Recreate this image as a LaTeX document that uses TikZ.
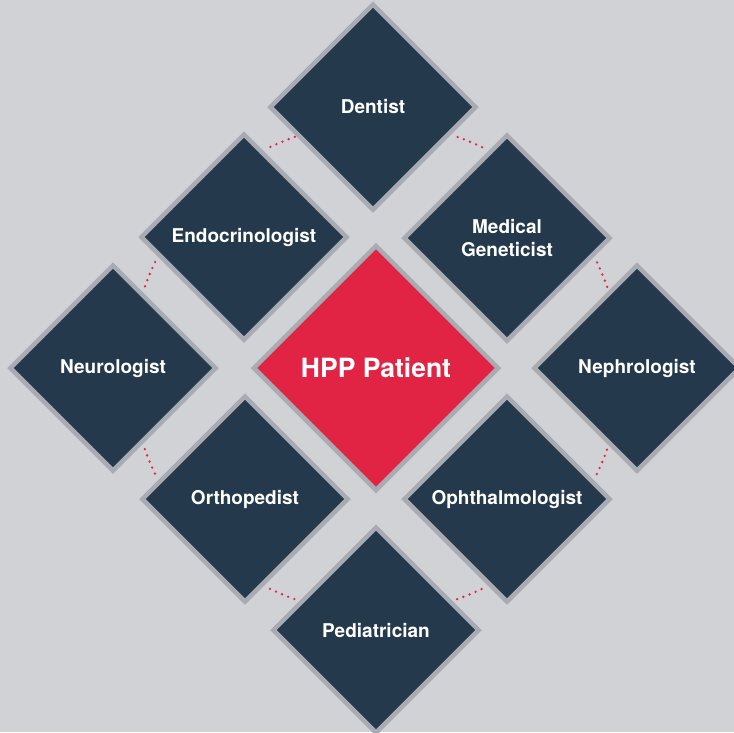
\documentclass[tikz,border=0pt]{standalone}
\usepackage{fontspec}
\setmainfont{TeX Gyre Heros}
\usetikzlibrary{shapes.geometric}
\definecolor{bgray}{HTML}{D1D2D6}
\definecolor{navy}{HTML}{243A4C}
\definecolor{rimgray}{HTML}{A9ABB2}
\definecolor{hppred}{HTML}{E12444}
\definecolor{dotred}{HTML}{E0244A}
\begin{document}
\begin{tikzpicture}[x=1pt,y=1pt,
  spec/.style={diamond,aspect=1,draw=rimgray,line width=4.5pt,fill=navy,text=white,inner sep=0pt,
    minimum size=207pt,align=center,font=\bfseries\fontsize{19}{23}\selectfont},
  hub/.style={spec,fill=hppred,minimum size=246pt,font=\bfseries\fontsize{26.5}{30}\selectfont},
  dots/.style={draw=dotred,line width=2.6pt,line cap=round,dash pattern=on 0pt off 6.6pt}]
\pgfmathsetmacro{\rad}{245}
\useasboundingbox(0,0)rectangle(734,-732);
\clip(0,0)rectangle(734,-732);
\fill[bgray](0,0)rectangle(734,-732);
% centre and the eight specialists round it
\node[hub](hpp)at(376,-368){HPP Patient};
\node[spec](dent)at(373,-107){Dentist};
\node[spec](endo)at(244,-237){Endocrinologist};
\node[spec](medgen)at(507,-238){Medical\\Geneticist};
\node[spec](neuro)at(113,-368){Neurologist};
\node[spec](neph)at(637,-368){Nephrologist};
\node[spec](ortho)at(245,-499){Orthopedist};
\node[spec](ophth)at(507,-499){Ophthalmologist};
\node[spec](ped)at(376,-630){Pediatrician};
\foreach \a in {22.5,67.5,...,337.5}
  \draw[dots]([shift={(\a-3.15:\rad)}]hpp.center)arc[start angle=\a-3.15,delta angle=6.3,radius=\rad];
\end{tikzpicture}
\end{document}
